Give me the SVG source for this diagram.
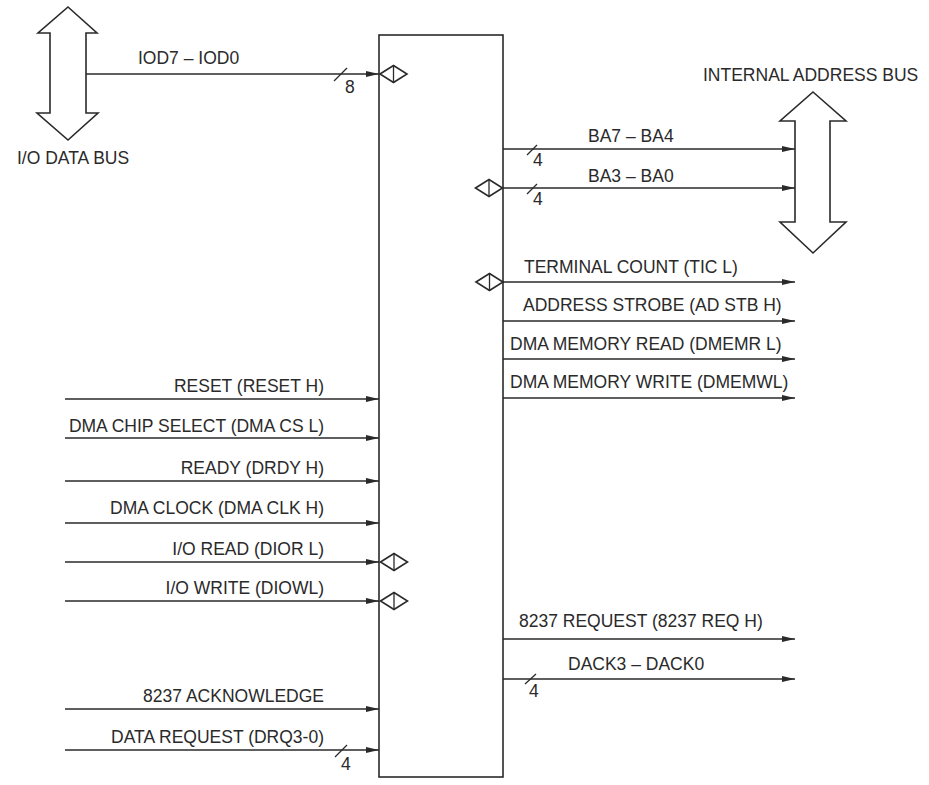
<svg xmlns="http://www.w3.org/2000/svg" width="929" height="785" viewBox="0 0 929 785">
<style>
text{font-family:"Liberation Sans",Arial,sans-serif;font-size:17.5px;fill:#2a2a2a}
.e{text-anchor:end}
.w{stroke:#2a2a2a;stroke-width:1.3;fill:none}
.b{stroke:#2a2a2a;stroke-width:1.6;fill:#fff}
.s{stroke:#2a2a2a;stroke-width:1.3}
</style>
<defs>
<marker id="ah" markerUnits="userSpaceOnUse" markerWidth="13" markerHeight="7" refX="13" refY="3" orient="auto">
<path d="M0,0 L13,3 L0,6 z" fill="#2a2a2a"/>
</marker>
<g id="dia">
<polygon points="-13.5,0 0,-8.5 13.5,0 0,8.5" class="b"/>
<line x1="0" y1="-8.5" x2="0" y2="8.5" class="s"/>
</g>
</defs>
<rect width="929" height="785" fill="#fff"/>

<g id="dma-block">
<rect x="379" y="35" width="124" height="742" class="b"/>
</g>

<g id="io-data-bus">
<polygon points="68,7 97,33 86,33 86,113 98,113 68,140 37,113 50,113 50,33 38,33" class="b"/>
<text x="17" y="164">I/O DATA BUS</text>
</g>

<g id="internal-address-bus">
<polygon points="813,92 846,121 830,121 830,222 846,222 813,253 780,222 795,222 795,121 780,121" class="b"/>
<text x="703" y="81">INTERNAL ADDRESS BUS</text>
</g>

<g id="pin-diamonds">
<use href="#dia" x="393.5" y="74"/>
<use href="#dia" x="489" y="188"/>
<use href="#dia" x="489.5" y="282"/>
<use href="#dia" x="394" y="562"/>
<use href="#dia" x="394" y="601"/>
</g>

<g id="connectors">
<line x1="86" y1="74" x2="379" y2="74" class="w" marker-end="url(#ah)"/>
<line x1="334" y1="81" x2="347" y2="68" class="s"/>
<text x="345" y="93">8</text>
<text x="138" y="64">IOD7 – IOD0</text>

<line x1="503" y1="149" x2="795" y2="149" class="w" marker-end="url(#ah)"/>
<line x1="527" y1="155" x2="537" y2="145" class="s"/>
<text x="533" y="166">4</text>
<text x="588" y="142">BA7 – BA4</text>

<line x1="503" y1="188" x2="795" y2="188" class="w" marker-end="url(#ah)"/>
<line x1="527" y1="194" x2="537" y2="184" class="s"/>
<text x="533" y="205">4</text>
<text x="588" y="182">BA3 – BA0</text>

<line x1="503" y1="282" x2="795" y2="282" class="w" marker-end="url(#ah)"/>
<text x="524" y="273">TERMINAL COUNT (TIC L)</text>
<line x1="503" y1="321" x2="795" y2="321" class="w" marker-end="url(#ah)"/>
<text x="523" y="311">ADDRESS STROBE (AD STB H)</text>
<line x1="503" y1="359" x2="795" y2="359" class="w" marker-end="url(#ah)"/>
<text x="510" y="350">DMA MEMORY READ (DMEMR L)</text>
<line x1="503" y1="398" x2="795" y2="398" class="w" marker-end="url(#ah)"/>
<text x="510" y="388">DMA MEMORY WRITE (DMEMWL)</text>

<line x1="503" y1="639" x2="795" y2="639" class="w" marker-end="url(#ah)"/>
<text x="519" y="627">8237 REQUEST (8237 REQ H)</text>
<line x1="503" y1="679" x2="795" y2="679" class="w" marker-end="url(#ah)"/>
<line x1="525" y1="684" x2="536" y2="674" class="s"/>
<text x="529" y="697">4</text>
<text x="568" y="670">DACK3 – DACK0</text>

<line x1="65" y1="399" x2="379" y2="399" class="w" marker-end="url(#ah)"/>
<text class="e" x="324" y="392">RESET (RESET H)</text>
<line x1="65" y1="438" x2="379" y2="438" class="w" marker-end="url(#ah)"/>
<text class="e" x="324" y="432">DMA CHIP SELECT (DMA CS L)</text>
<line x1="65" y1="481" x2="379" y2="481" class="w" marker-end="url(#ah)"/>
<text class="e" x="324" y="474">READY (DRDY H)</text>
<line x1="65" y1="523" x2="379" y2="523" class="w" marker-end="url(#ah)"/>
<text class="e" x="324" y="514">DMA CLOCK (DMA CLK H)</text>
<line x1="65" y1="562" x2="379" y2="562" class="w" marker-end="url(#ah)"/>
<text class="e" x="324" y="555">I/O READ (DIOR L)</text>
<line x1="65" y1="601" x2="379" y2="601" class="w" marker-end="url(#ah)"/>
<text class="e" x="324" y="594">I/O WRITE (DIOWL)</text>
<line x1="65" y1="709" x2="379" y2="709" class="w" marker-end="url(#ah)"/>
<text class="e" x="324" y="702">8237 ACKNOWLEDGE</text>
<line x1="65" y1="750" x2="379" y2="750" class="w" marker-end="url(#ah)"/>
<line x1="335" y1="757" x2="347" y2="745" class="s"/>
<text x="341" y="770">4</text>
<text class="e" x="324" y="743">DATA REQUEST (DRQ3-0)</text>
</g>
</svg>
